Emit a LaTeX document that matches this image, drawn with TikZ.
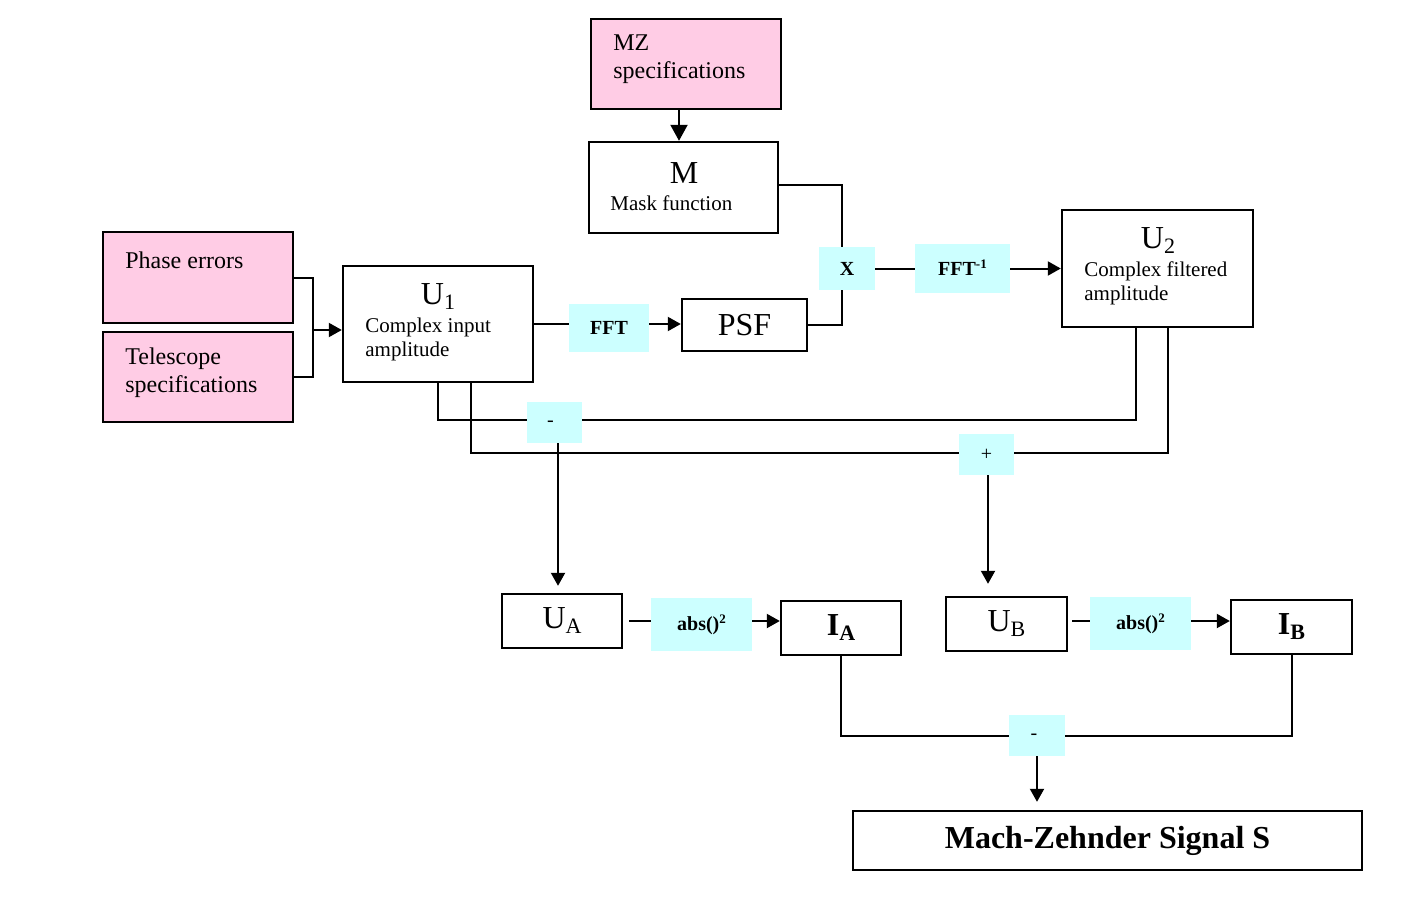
\documentclass[tikz,border=0pt]{standalone}
\usepackage{fontspec}
\setmainfont{Liberation Serif}
\usetikzlibrary{arrows.meta,calc}
\newcommand\mysub[1]{\raisebox{-2.5pt}{\fontsize{11}{11}\selectfont #1}}
\newcommand\mysup[1]{\raisebox{3.5pt}{\fontsize{6.5}{6.5}\selectfont #1}}
\definecolor{pinkfill}{HTML}{FFCCE5}
\definecolor{cyanfill}{HTML}{CCFFFF}
\begin{document}
\begin{tikzpicture}[x=0.5pt,y=-0.5pt,
  blk/.style={draw=black, line width=1.2pt, inner sep=0pt, fill=white},
  pinkblk/.style={blk, fill=pinkfill},
  op/.style={fill=cyanfill, inner sep=0pt, font=\fontsize{10}{12}\selectfont\bfseries},
  txt/.style={inner sep=0pt, anchor=west, align=left},
  big/.style={font=\fontsize{16}{18}\selectfont},
  conn/.style={line width=1pt},
  arr/.style={conn, -{Triangle[length=6.5pt,width=7pt]}}]
\useasboundingbox (0,0) rectangle (1428,909);

% boxes
\node[pinkblk, minimum width=95pt, minimum height=45pt] (mz) at (686,64) {};
\node[blk, minimum width=94.5pt, minimum height=45.5pt] (m) at (683.5,187.5) {};
\node[pinkblk, minimum width=95pt, minimum height=45.5pt] (pe) at (198,277.5) {};
\node[pinkblk, minimum width=95pt, minimum height=45pt] (ts) at (198,377) {};
\node[blk, minimum width=95pt, minimum height=58pt] (u1) at (438,324) {};
\node[op, minimum width=40pt, minimum height=24pt] (fft) at (609,328) {FFT};
\node[blk, big, minimum width=62.5pt, minimum height=26pt] (psf) at (744.5,325) {\raisebox{-1.5pt}{PSF}};
\node[op, minimum width=28pt, minimum height=21.5pt] (x) at (847,268.5) {X};
\node[op, minimum width=47.5pt, minimum height=24.5pt] (ffti) at (962.5,268.5) {\raisebox{1pt}{FFT\mysup{-1}}};
\node[blk, minimum width=95.5pt, minimum height=58.5pt] (u2) at (1157.5,268.5) {};
\node[op, font=\fontsize{10}{12}\selectfont, minimum width=27.5pt, minimum height=20.5pt] (minus) at (554.5,422.5) {\hspace*{-4pt}\raisebox{-4pt}{-}};
\node[op, font=\fontsize{10}{12}\selectfont, minimum width=27.5pt, minimum height=20.5pt] (plus) at (986.5,454.5) {\raisebox{-2.5pt}{+}};
\node[blk, big, minimum width=60pt, minimum height=27pt] (ua) at (562,621) {\raisebox{-1pt}{U\mysub{A}}};
\node[op, minimum width=50.5pt, minimum height=26.5pt] (absA) at (701.5,624.5) {\raisebox{2pt}{abs()\mysup{2}}};
\node[blk, big, minimum width=60pt, minimum height=27pt] (ia) at (841,628) {\raisebox{-1pt}{\bfseries I\mysub{\bfseries A}}};
\node[blk, big, minimum width=60.5pt, minimum height=27pt] (ub) at (1006.5,624) {\raisebox{-1pt}{U\mysub{B}}};
\node[op, minimum width=50.5pt, minimum height=26.5pt] (absB) at (1140.5,623.5) {\raisebox{2pt}{abs()\mysup{2}}};
\node[blk, big, minimum width=60.5pt, minimum height=27pt] (ib) at (1291.5,627) {\raisebox{-1pt}{\bfseries I\mysub{\bfseries B}}};
\node[op, font=\fontsize{10}{12}\selectfont, minimum width=28pt, minimum height=20.5pt] (minus2) at (1037,735.5) {\hspace*{-3pt}\raisebox{-4pt}{-}};
\node[blk, minimum width=254.5pt, minimum height=29.5pt, font=\fontsize{16}{18}\selectfont\bfseries] (sig) at (1107.5,840.5) {\raisebox{-3pt}{Mach-Zehnder Signal S}};

% texts
\node[txt, font=\fontsize{12}{14}\selectfont] (tmz) at (613,59) {MZ\\specifications};
\node[big, inner sep=0pt] (tm) at (684,173) {M};
\node[txt, font=\fontsize{10.5}{12}\selectfont] (tmf) at (610,203) {Mask function};
\node[txt, font=\fontsize{12}{14}\selectfont] (tpe) at (125,260) {Phase errors};
\node[txt, font=\fontsize{12}{14}\selectfont] (tts) at (125,373) {Telescope\\specifications};
\node[big, inner sep=0pt] (tu1) at (438,297) {U\mysub{1}};
\node[txt, font=\fontsize{10.5}{12}\selectfont] (tu1b) at (365,339) {Complex input\\amplitude};
\node[big, inner sep=0pt] (tu2) at (1158,241) {U\mysub{2}};
\node[txt, font=\fontsize{10.5}{12}\selectfont] (tu2b) at (1084,283) {Complex filtered\\amplitude};

% connectors
\draw[conn, -{Triangle[length=8pt,width=8.5pt]}] ($(mz.south)+(-7,0)$) -- ($(m.north)+(-4.5,0)$);
\coordinate (J) at (313,330);
\draw[conn] (pe.east) -| (J) |- (ts.east);
\draw[arr] (J) -- (J -| u1.west);
\draw[conn] (u1.east) -- (fft.west |- u1.east);
\draw[arr] (fft.east |- u1.east) -- (psf.west |- u1.east);
\draw[conn] (psf.east) -| ($(x.south)+(-5,0)$);
\draw[conn] ($(m.east)+(0,-2.5)$) -| ($(x.north)+(-5,0)$);
\draw[conn] (x.east) -- (ffti.west);
\draw[arr] (ffti.east) -- (u2.west |- ffti.east);
\draw[conn] (u1.south) |- ($(minus.west)+(0,-2.5)$);
\draw[conn] ($(minus.east)+(0,-2.5)$) -| ($(u2.south)+(-21.5,0)$);
\draw[conn] ($(u1.south)+(33,0)$) |- ($(plus.west)+(0,-1.5)$);
\draw[conn] ($(plus.east)+(0,-1.5)$) -| ($(u2.south)+(10.5,0)$);
\draw[arr, shorten >=3.5pt] ($(minus.south)+(3.5,0)$) -- ($(minus.south |- ua.north)+(3.5,0)$);
\draw[arr, shorten >=6pt] ($(plus.south)+(1.5,0)$) -- ($(plus.south |- ub.north)+(1.5,0)$);
\draw[conn, shorten <=3pt] (ua.east) -- (absA.west |- ua.east);
\draw[arr] (absA.east |- ua.east) -- (ia.west |- ua.east);
\draw[conn, shorten <=2pt] ($(ub.east)+(0,-3)$) -- ($(absB.west |- ub.east)+(0,-3)$);
\draw[arr] ($(absB.east |- ub.east)+(0,-3)$) -- ($(ib.west |- ub.east)+(0,-3)$);
\draw[conn] (ia.south) |- (minus2.west);
\draw[conn] (minus2.east) -| (ib.south);
\draw[arr, shorten >=4pt] (minus2.south) -- (minus2.south |- sig.north);
\end{tikzpicture}
\end{document}
